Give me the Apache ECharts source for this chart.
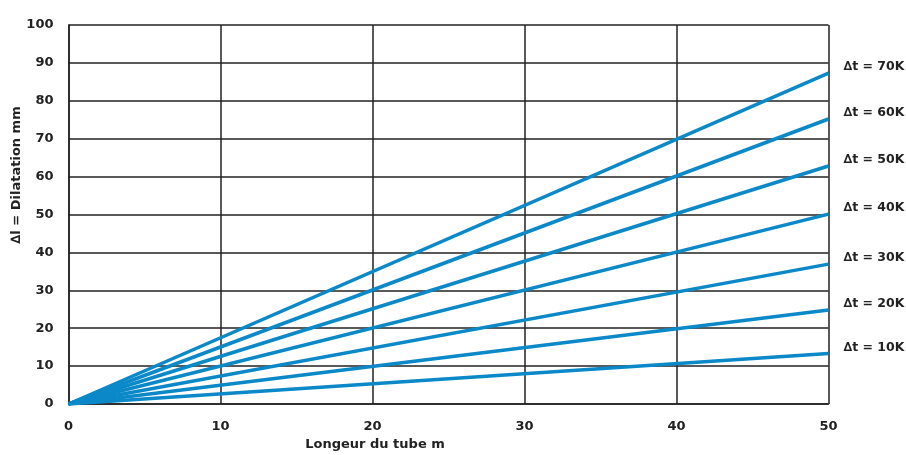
<!DOCTYPE html>
<html><head><meta charset="utf-8">
<script src="https://cdn.jsdelivr.net/npm/echarts@6/dist/echarts.min.js"></script>
<style>html,body{margin:0;padding:0;background:#fff}#c{width:906px;height:455px}</style>
</head><body><div id="c"></div>
<script>
const xTicks = [0, 10, 20, 30, 40, 50];
const yTicks = [0, 10, 20, 30, 40, 50, 60, 70, 80, 90, 100];
const seriesNames = ['∆t = 70K', '∆t = 60K', '∆t = 50K', '∆t = 40K', '∆t = 30K', '∆t = 20K', '∆t = 10K'];
const tubeLength = [0, 50];
const dil70 = [0, 87.3];
const dil60 = [0, 75.2];
const dil50 = [0, 62.8];
const dil40 = [0, 50.1];
const dil30 = [0, 36.9];
const dil20 = [0, 24.8];
const dil10 = [0, 13.3];
const allValues = [dil70, dil60, dil50, dil40, dil30, dil20, dil10];

const font = 'DejaVu Sans';
const chart = echarts.init(document.getElementById('c'));
chart.setOption({
  animation: false,
  grid: {left: 68.5, right: 77.5, top: 25, bottom: 51, show: false},
  xAxis: {
    type: 'value', min: 0, max: 50, interval: 10,
    axisLine: {show: true, lineStyle: {color: '#222', width: 1.5}},
    axisTick: {show: false},
    splitLine: {show: true, lineStyle: {color: '#222', width: 1.5}},
    axisLabel: {color: '#222', fontFamily: font, fontWeight: 'bold', fontSize: 13, margin: 16,
      formatter: v => xTicks.includes(v) ? String(v) : ''}
  },
  yAxis: {
    type: 'value', min: 0, max: 100, interval: 10,
    axisLine: {show: true, lineStyle: {color: '#222', width: 1.5}},
    axisTick: {show: false},
    splitLine: {show: true, lineStyle: {color: '#222', width: 1.5}},
    axisLabel: {color: '#222', fontFamily: font, fontWeight: 'bold', fontSize: 13, margin: 15,
      formatter: v => yTicks.includes(v) ? String(v) : ''}
  },
  graphic: [
    {type: 'text', x: 375, y: 445, style: {text: 'Longeur du tube m', fill: '#222', font: 'bold 13px "DejaVu Sans"', align: 'center', verticalAlign: 'middle'}},
    {type: 'text', x: 17, y: 175, rotation: Math.PI / 2, style: {text: '∆l = Dilatation mm', fill: '#222', font: 'bold 13px "DejaVu Sans"', align: 'center', verticalAlign: 'middle'}}
  ],
  series: allValues.map((vals, i) => ({
    type: 'line', name: seriesNames[i],
    data: tubeLength.map((x, j) => [x, vals[j]]),
    symbol: 'none',
    lineStyle: {color: '#0a88c8', width: 3.5},
    endLabel: {show: true, formatter: seriesNames[i], distance: 15, offset: [0, -6],
      color: '#222', fontFamily: font, fontWeight: 'bold', fontSize: 12.5},
    z: 3
  }))
});
</script></body></html>
